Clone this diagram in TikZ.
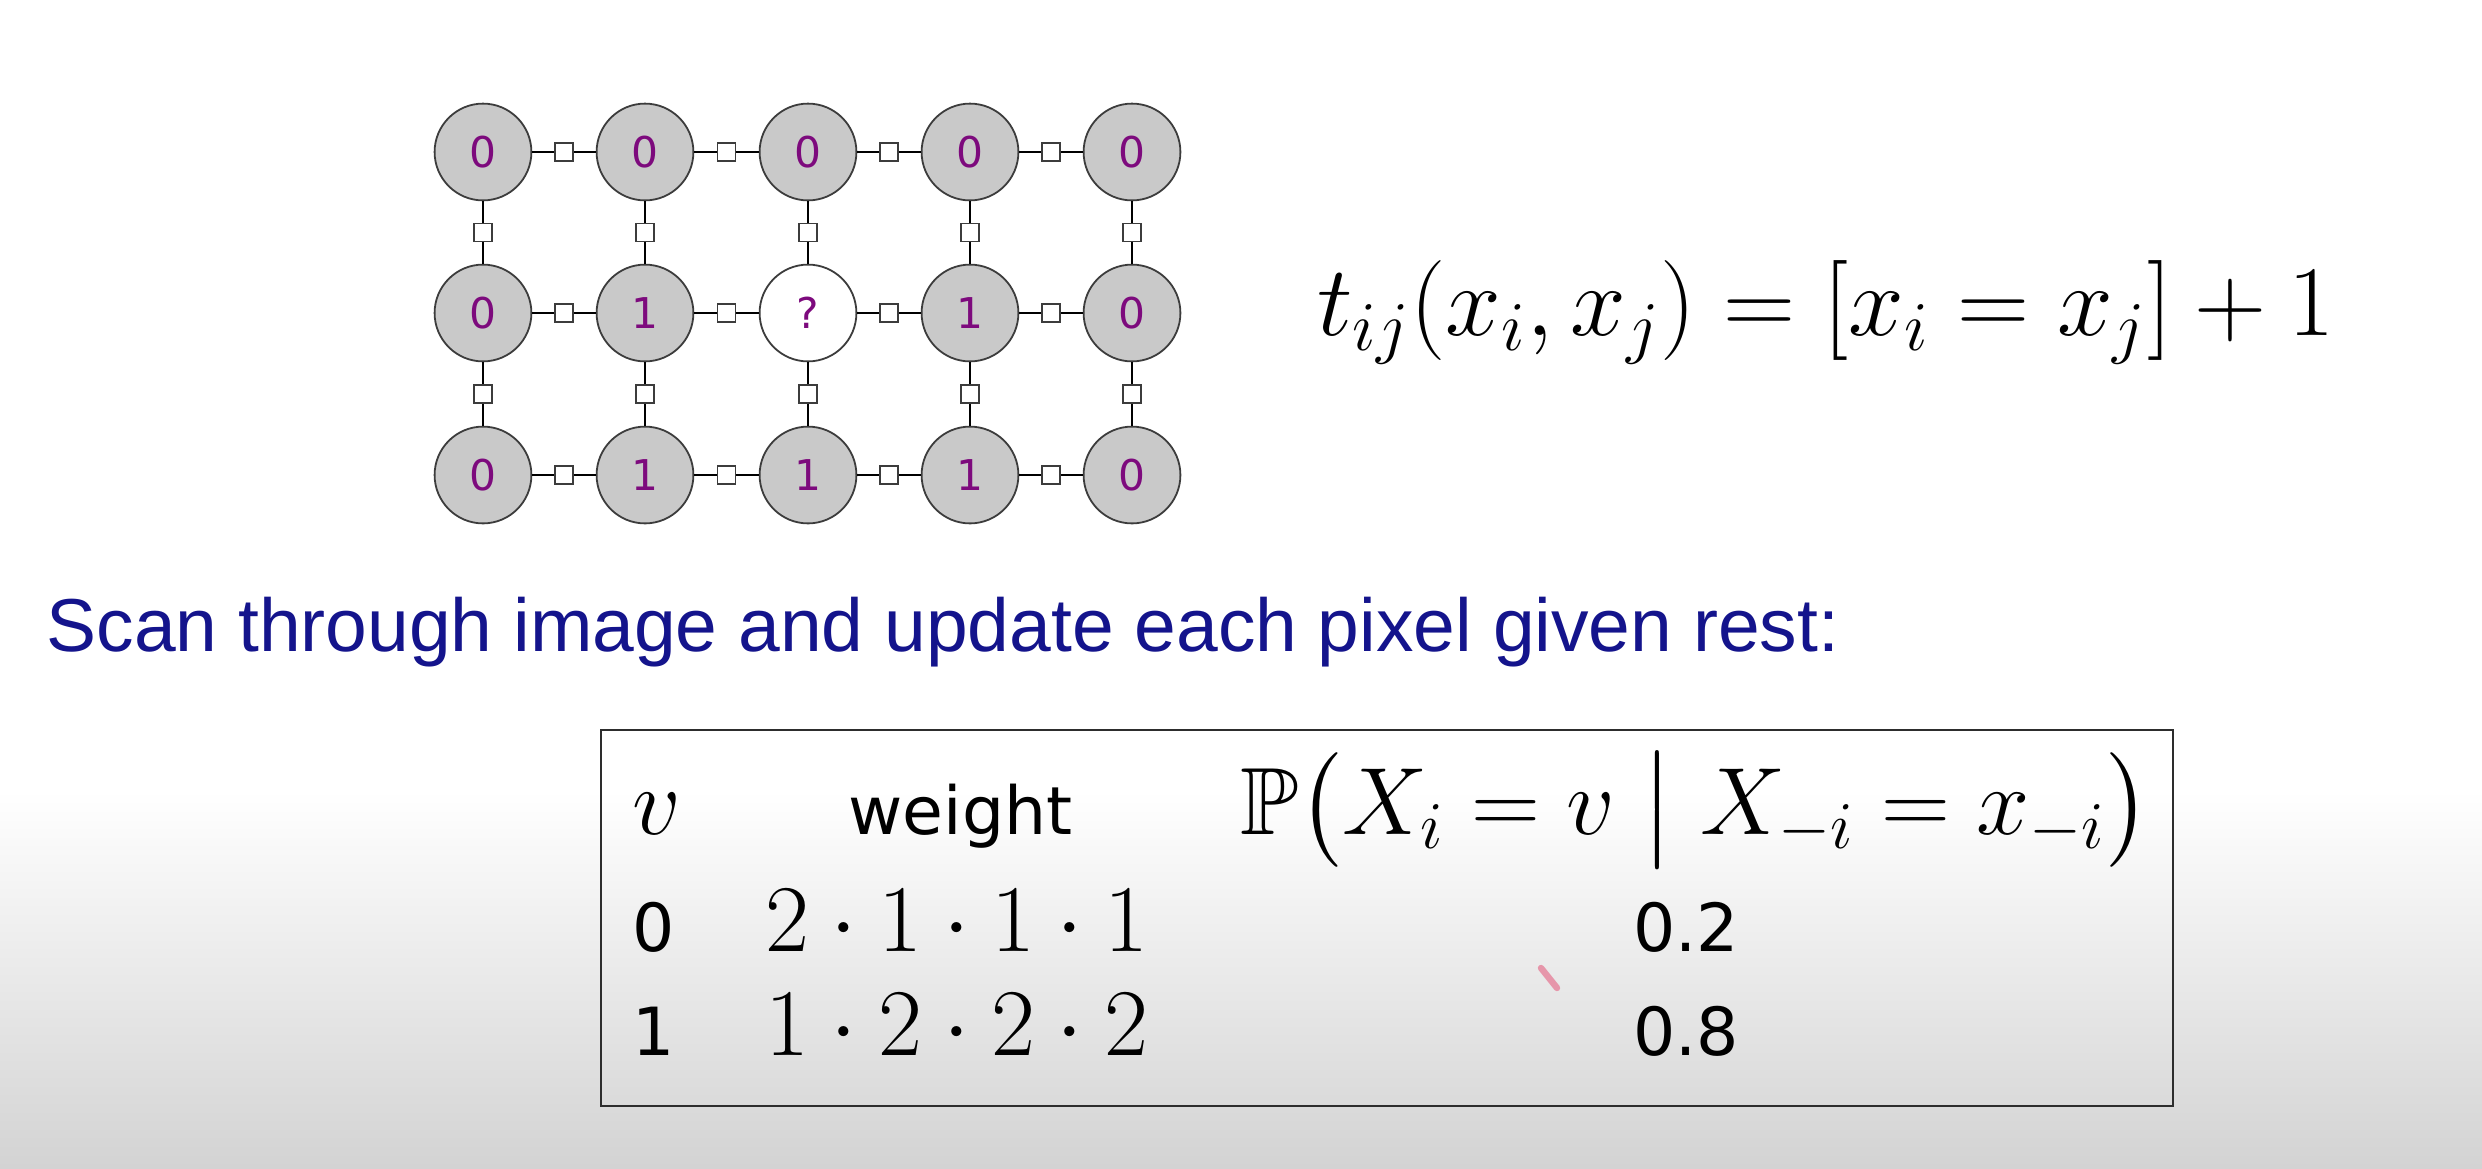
\RequirePackage{fix-cm}
\documentclass[tikz,border=0pt]{standalone}
\usepackage{amsmath,amssymb}
\usepackage{fontspec}
\newfontfamily\slidefont{Liberation Sans}
\newfontfamily\cellfont{DejaVu Sans}

\definecolor{slideblue}{RGB}{20,20,140}
\definecolor{pixelpurple}{RGB}{125,10,125}
\definecolor{pixelgray}{RGB}{201,201,201}
\definecolor{rimgray}{RGB}{60,60,60}
\definecolor{shadegray}{RGB}{211,211,211}
\definecolor{penpink}{RGB}{230,150,170}

\tikzset{every picture/.style={line width=0.75pt}}
\tikzset{
  pixel/.style={circle, draw=rimgray, fill=pixelgray, line width=0.45pt, minimum size=24.2pt, inner sep=0pt, text=pixelpurple, font=\cellfont\fontsize{10.6}{12}\selectfont},
  query/.style={pixel, fill=white},
  factor/.style={rectangle, draw=rimgray, fill=white, line width=0.4pt, minimum size=4.5pt, inner sep=0pt},
  link/.style={line width=0.65pt},
  cellsans/.style={font=\cellfont\fontsize{16.6}{20}\selectfont},
  cellmath/.style={font=\fontsize{23.9}{28}\selectfont}
}

\begin{document}
\begin{tikzpicture}[x=0.25pt,y=0.25pt,yscale=-1,xscale=1]
\useasboundingbox (0,0) rectangle (2482,1168);

%Shape: Shading [bottom of frame]
\shade [top color=white, bottom color=shadegray] (0,790) rectangle (2482,1168);

%Shape: Circle [pixels, top row]
\node [pixel] (p11) at (483,152) {0};
\node [pixel] (p12) at (645,152) {0};
\node [pixel] (p13) at (808,152) {0};
\node [pixel] (p14) at (970,152) {0};
\node [pixel] (p15) at (1132,152) {0};
%Shape: Circle [pixels, middle row]
\node [pixel] (p21) at (483,313) {0};
\node [pixel] (p22) at (645,313) {1};
\node [query] (p23) at (808,313) {?};
\node [pixel] (p24) at (970,313) {1};
\node [pixel] (p25) at (1132,313) {0};
%Shape: Circle [pixels, bottom row]
\node [pixel] (p31) at (483,475) {0};
\node [pixel] (p32) at (645,475) {1};
\node [pixel] (p33) at (808,475) {1};
\node [pixel] (p34) at (970,475) {1};
\node [pixel] (p35) at (1132,475) {0};

%Straight Lines [rows, with factors]
\draw [link] (p11) -- node [factor] {} (p12) -- node [factor] {} (p13) -- node [factor] {} (p14) -- node [factor] {} (p15) ;
\draw [link] (p21) -- node [factor] {} (p22) -- node [factor] {} (p23) -- node [factor] {} (p24) -- node [factor] {} (p25) ;
\draw [link] (p31) -- node [factor] {} (p32) -- node [factor] {} (p33) -- node [factor] {} (p34) -- node [factor] {} (p35) ;
%Straight Lines [columns, with factors]
\draw [link] (p11) -- node [factor] {} (p21) -- node [factor] {} (p31) ;
\draw [link] (p12) -- node [factor] {} (p22) -- node [factor] {} (p32) ;
\draw [link] (p13) -- node [factor] {} (p23) -- node [factor] {} (p33) ;
\draw [link] (p14) -- node [factor] {} (p24) -- node [factor] {} (p34) ;
\draw [link] (p15) -- node [factor] {} (p25) -- node [factor] {} (p35) ;

% Text Node
\draw (1313,335) node [anchor=base west] [inner sep=0.75pt] [font=\fontsize{25}{30}\selectfont] (pot) {$t_{ij}(x_i,x_j)=[x_i=x_j]+1$};
% Text Node
\draw (42,651) node [anchor=base west] [inner sep=0.75pt] [text=slideblue, font=\slidefont\fontsize{18.75}{22}\selectfont] (scan) {Scan through image and update each pixel given rest:};

%Shape: Rectangle [table frame]
\draw [draw={rgb, 255:red, 45; green, 45; blue, 45}, line width=0.7pt] (601,730) rectangle (2173,1106) ;

% Text Node
\draw (628,834) node [anchor=base west] [inner sep=0.75pt] [cellmath] (hv) {$v$};
% Text Node
\draw (844,834) node [anchor=base west] [inner sep=0.75pt] [cellsans] (hw) {weight};
% Text Node
\draw (1236,834) node [anchor=base west] [inner sep=0.75pt] [cellmath] (hp) {$\mathbb{P}\bigl(X_i=v \bigm| X_{-i}=x_{-i}\bigr)$};
% Text Node
\draw (628,951) node [anchor=base west] [inner sep=0.75pt] [cellsans] (v0) {0};
% Text Node
\draw (761,951) node [anchor=base west] [inner sep=0.75pt] [cellmath] (w0) {$2\cdot1\cdot1\cdot1$};
% Text Node
\draw (1629,951) node [anchor=base west] [inner sep=0.75pt] [cellsans] (q0) {0.2};
% Text Node
\draw (628,1055) node [anchor=base west] [inner sep=0.75pt] [cellsans] (v1) {1};
% Text Node
\draw (761,1055) node [anchor=base west] [inner sep=0.75pt] [cellmath] (w1) {$1\cdot2\cdot2\cdot2$};
% Text Node
\draw (1629,1055) node [anchor=base west] [inner sep=0.75pt] [cellsans] (q1) {0.8};

%Straight Lines [pen mark]
\draw [color=penpink, line width=1.6pt, line cap=round] (1541,968) -- (1557,988) ;

\end{tikzpicture}
\end{document}
